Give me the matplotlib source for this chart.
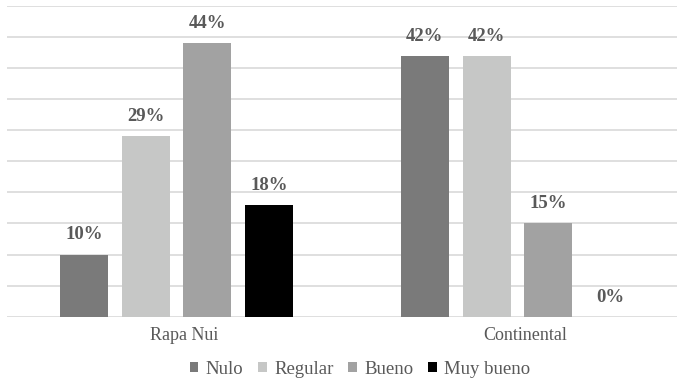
import matplotlib
matplotlib.use("Agg")
import matplotlib.pyplot as plt
import matplotlib.transforms as mtransforms
from matplotlib.patches import Patch
import numpy as np

categories = ["Rapa Nui", "Continental"]
series = ["Nulo", "Regular", "Bueno", "Muy bueno"]
values = {
    "Nulo": [10, 42],
    "Regular": [29, 42],
    "Bueno": [44, 15],
    "Muy bueno": [18, 0],
}
colors = {
    "Nulo": "#7a7a7a",
    "Regular": "#c6c7c6",
    "Bueno": "#a2a2a2",
    "Muy bueno": "#000000",
}

plt.rcParams["font.family"] = ["Liberation Serif", "DejaVu Serif"]
text_color = "#595959"

fig = plt.figure(figsize=(6.8, 3.82), dpi=100)
ax = fig.add_axes([7 / 680, 65.3 / 382, 670 / 680, 310.7 / 382])

x = np.arange(len(categories))
step = 0.181
width = 0.141
offsets = (np.arange(len(series)) - (len(series) - 1) / 2) * step

for off, name in zip(offsets, series):
    vals = values[name]
    bars = ax.bar(x + off, vals, width=width, color=colors[name], zorder=3, label=name)
    for b, v in zip(bars, vals):
        ax.annotate(f"{v}%", (b.get_x() + b.get_width() / 2, b.get_height()),
                    xytext=(0, 8), textcoords="offset points",
                    ha="center", va="bottom", fontsize=13.5, fontweight="bold",
                    color=text_color)

ax.set_ylim(0, 50)
ax.set_yticks(np.arange(0, 51, 5))
ax.set_xlim((7 - 176.5) / 341, (677 - 176.5) / 341)
ax.yaxis.grid(True, color="#d9d9d9", linewidth=1.2, zorder=0)
ax.tick_params(axis="y", left=False, labelleft=False)
ax.tick_params(axis="x", bottom=False, labelsize=13, labelcolor=text_color, pad=4)
ax.set_xticks(x)
ax.set_xticklabels(categories)
shift = mtransforms.ScaledTranslation(8 / 100, 0, fig.dpi_scale_trans)
for lbl in ax.get_xticklabels():
    lbl.set_transform(lbl.get_transform() + shift)
for s in ax.spines.values():
    s.set_visible(False)

handles = [Patch(facecolor=colors[n], edgecolor="none", label=n) for n in series]
fig.legend(handles=handles, loc="center", bbox_to_anchor=(360 / 680, 13 / 382),
           ncol=4, frameon=False, fontsize=13.5, labelcolor=text_color,
           handlelength=0.45, handleheight=0.45, handletextpad=0.4, columnspacing=0.8)

fig.savefig("out.png", dpi=100)
